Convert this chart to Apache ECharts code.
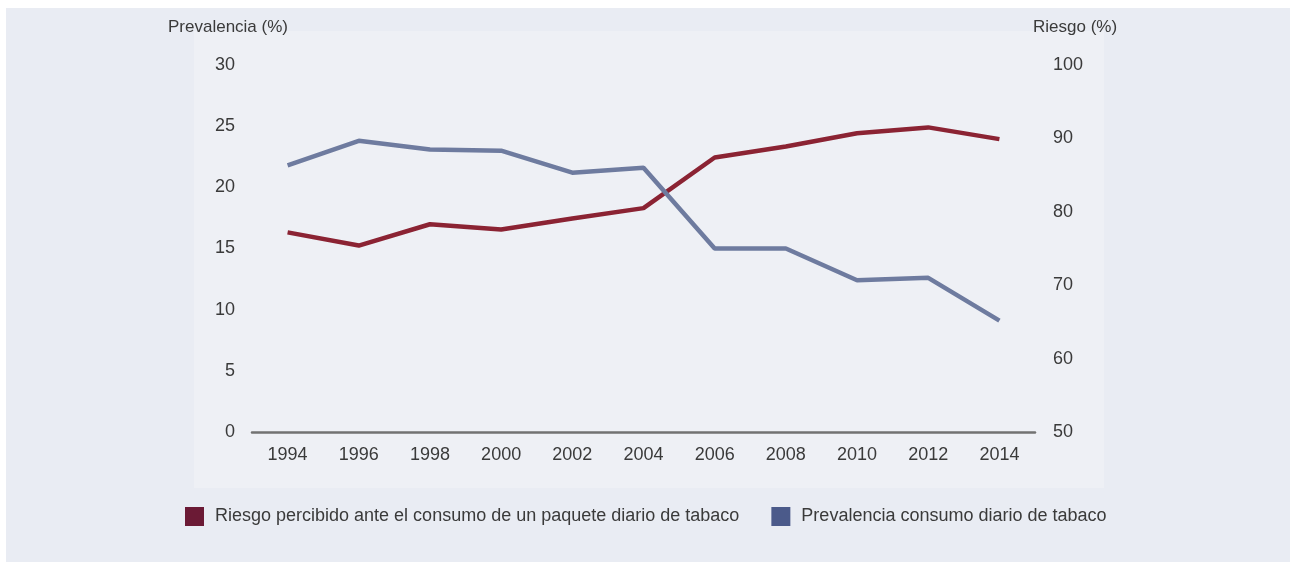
<!DOCTYPE html>
<html>
<head>
<meta charset="utf-8">
<script src="https://cdn.jsdelivr.net/npm/echarts@6/dist/echarts.min.js"></script>
<style>
html,body{margin:0;padding:0;background:#ffffff;}
#main{width:1290px;height:563px;}
</style>
</head>
<body>
<div id="main"></div>
<script>
const years = ['1994','1996','1998','2000','2002','2004','2006','2008','2010','2012','2014'];
const riesgo = [77.2, 75.4, 78.3, 77.6, 79.1, 80.5, 87.4, 88.9, 90.7, 91.5, 89.9];
const prevalencia = [21.8, 23.8, 23.1, 23.0, 21.2, 21.6, 15.0, 15.0, 12.4, 12.6, 9.1];
const nameRiesgo = 'Riesgo percibido ante el consumo de un paquete diario de tabaco';
const namePrev = 'Prevalencia consumo diario de tabaco';
const leftAxisTitle = 'Prevalencia (%)';
const rightAxisTitle = 'Riesgo (%)';

const FONT = '"Liberation Sans", Arial, sans-serif';
const TXT = '#3a3a3a';
const chart = echarts.init(document.getElementById('main'), null, {renderer:'canvas'});
chart.setOption({
  animation: false,
  backgroundColor: '#ffffff',
  textStyle: {fontFamily: FONT},
  graphic: [
    {type:'rect', z:-10, silent:true, shape:{x:6,y:8,width:1284,height:554}, style:{fill:'#e9ecf3'}},
    {type:'rect', z:-9, silent:true, shape:{x:194,y:31,width:910,height:457}, style:{fill:'#eef0f5'}},
    {type:'text', left:168, top:19, style:{text:leftAxisTitle, fill:TXT, font:'17px ' + FONT}},
    {type:'text', left:1033, top:19, style:{text:rightAxisTitle, fill:TXT, font:'17px ' + FONT}}
  ],
  grid: {left:252, right:255, top:65, bottom:131, containLabel:false},
  legend: {
    left: 185, top: 507, padding: 0,
    itemWidth: 19, itemHeight: 19, itemGap: 32,
    icon: 'rect',
    textStyle: {fontSize:18, color:TXT, fontFamily:FONT, padding:[0,0,0,6]},
    data: [
      {name: nameRiesgo, itemStyle:{color:'#6b1a35'}},
      {name: namePrev, itemStyle:{color:'#4b5a8a'}}
    ]
  },
  xAxis: {
    type: 'category', data: years, boundaryGap: true,
    axisLine: {show:true, lineStyle:{color:'#727272', width:2.5}},
    axisTick: {show:false},
    axisLabel: {color:TXT, fontSize:18, margin:14, fontFamily:FONT}
  },
  yAxis: [
    {type:'value', min:0, max:30, interval:5, position:'left',
     axisLine:{show:false}, axisTick:{show:false}, splitLine:{show:false},
     axisLabel:{color:TXT, fontSize:18, margin:17, fontFamily:FONT}},
    {type:'value', min:50, max:100, interval:10, position:'right',
     axisLine:{show:false}, axisTick:{show:false}, splitLine:{show:false},
     axisLabel:{color:TXT, fontSize:18, margin:18, fontFamily:FONT}}
  ],
  series: [
    {name: nameRiesgo, type:'line', yAxisIndex:1, data:riesgo, symbol:'none',
     lineStyle:{color:'#8b2333', width:4.5}, itemStyle:{color:'#8b2333'}},
    {name: namePrev, type:'line', yAxisIndex:0, data:prevalencia, symbol:'none',
     lineStyle:{color:'#6e7b9f', width:4.5}, itemStyle:{color:'#6e7b9f'}}
  ]
});
</script>
</body>
</html>
